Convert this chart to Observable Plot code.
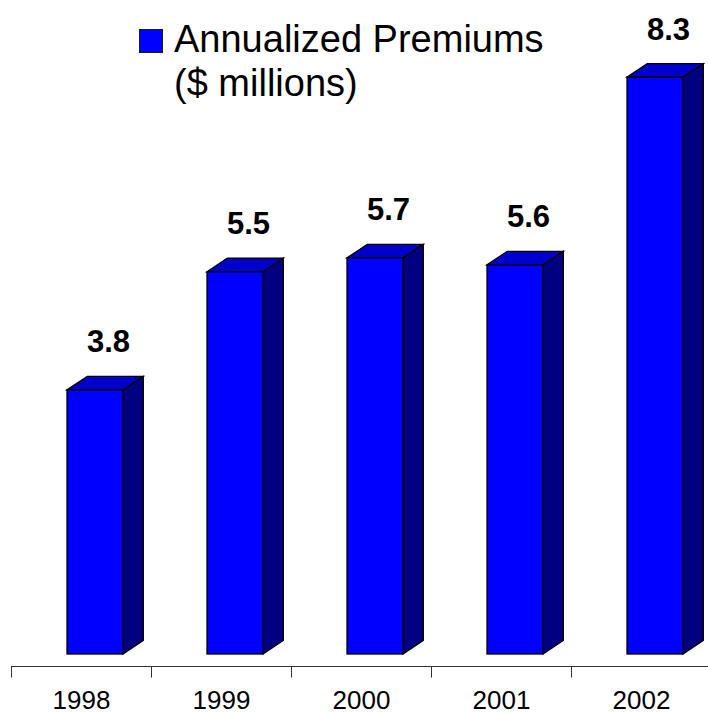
<!DOCTYPE html>
<html><head><meta charset="utf-8">
<script src="https://cdn.jsdelivr.net/npm/d3@7"></script>
<script src="https://cdn.jsdelivr.net/npm/@observablehq/plot@0.6"></script>
<style>
body{margin:0;background:#fff;}
#wrap{position:relative;width:708px;height:714px;font-family:"Liberation Sans",Arial,sans-serif;overflow:hidden;}
#swatch{position:absolute;left:139px;top:29px;width:24px;height:24px;box-sizing:border-box;background:#0000FF;border:1.5px solid #1a1a1a;}
#legtext{position:absolute;left:174px;top:17px;font-size:38px;line-height:44px;color:#000;white-space:nowrap;}
</style></head><body>
<div id="wrap"><div id="swatch"></div><div id="legtext"></div></div>
<script>
const years = ["1998", "1999", "2000", "2001", "2002"];
const premiums = [3.8, 5.5, 5.7, 5.6, 8.3];
const legendLines = ["Annualized Premiums", "($ millions)"];

const FRONT = "#0000FF", TOP = "#0000CC", SIDE = "#000080";
const data = years.map((yr, i) => ({year: yr, value: premiums[i]}));

function bars3d(index, scales) {
  const x = scales.x, y = scales.y;
  const bw = x.bandwidth();
  const ddx = bw * 0.145, ddy = 13.5;
  const g = d3.create("svg:g").attr("stroke", "#000").attr("stroke-width", 1.3).attr("stroke-linejoin", "miter");
  years.forEach((yr, i) => {
    const x0 = x(yr) + bw * 0.4, x1 = x(yr) + bw * 0.8;
    const yb = y(0), yt = y(premiums[i]);
    g.append("polygon").attr("fill", SIDE)
      .attr("points", [[x1, yt], [x1 + ddx, yt - ddy], [x1 + ddx, yb - ddy], [x1, yb]].join(" "));
    g.append("polygon").attr("fill", TOP)
      .attr("points", [[x0, yt], [x0 + ddx, yt - ddy], [x1 + ddx, yt - ddy], [x1, yt]].join(" "));
    g.append("rect").attr("fill", FRONT)
      .attr("x", x0).attr("y", yt).attr("width", x1 - x0).attr("height", yb - yt);
  });
  return g.node();
}

function axisLine(index, scales) {
  const x = scales.x, y = scales.y;
  const bw = x.bandwidth();
  const ya = Math.round(y(0) + 12) + 0.5;
  const g = d3.create("svg:g").attr("stroke", "#333").attr("stroke-width", 1);
  g.append("line").attr("x1", x(years[0])).attr("x2", x(years[years.length - 1]) + bw).attr("y1", ya).attr("y2", ya);
  years.forEach(yr => {
    const xx = Math.round(x(yr)) + 0.5;
    g.append("line").attr("x1", xx).attr("x2", xx).attr("y1", ya).attr("y2", ya + 11);
  });
  return g.node();
}

const chart = Plot.plot({
  width: 708, height: 714,
  marginTop: 0, marginBottom: 60, marginLeft: 11, marginRight: 0,
  style: {fontFamily: "'Liberation Sans', Arial, sans-serif", background: "transparent", color: "#000"},
  x: {type: "band", domain: years, range: [11, 711], padding: 0, axis: null},
  y: {domain: [0, 9.41], range: [654, 0], axis: null},
  marks: [
    bars3d,
    axisLine,
    Plot.text(years, {x: d => d, frameAnchor: "bottom", lineAnchor: "top", dy: 36, fontSize: 26, fill: "#000"}),
    Plot.text(data, {x: "year", y: "value", text: d => d.value.toFixed(1), dx: 27, dy: -38, lineAnchor: "bottom", fontSize: 31, fontWeight: "bold", fill: "#000"})
  ]
});
chart.style.position = "absolute";
chart.style.left = "0px";
chart.style.top = "0px";
const wrap = document.getElementById("wrap");
wrap.insertBefore(chart, wrap.firstChild);
document.getElementById("legtext").innerHTML = legendLines.join("<br>");
</script>
</body></html>
